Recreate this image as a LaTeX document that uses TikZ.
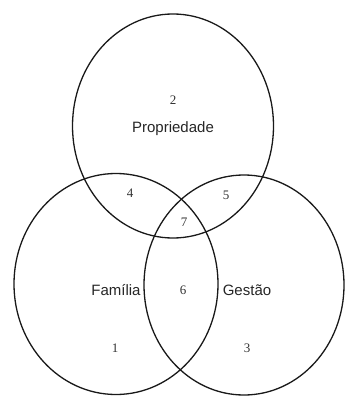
\documentclass[tikz,border=0pt]{standalone}
\usepackage{fontspec}
\setmainfont{Liberation Serif}
\newfontfamily\labelfont{Liberation Sans}
\usetikzlibrary{shapes.geometric}
\tikzstyle{set} = [
    ellipse,
    inner sep=0pt,
    line width=1.3pt,
    draw=black!90
]
\tikzstyle{setname} = [
    font=\labelfont\fontsize{15}{17}\selectfont,
    text=black!85,
    inner sep=0pt
]
\tikzstyle{region} = [
    font=\fontsize{13}{15}\selectfont,
    text=black!80,
    inner sep=0pt
]

\begin{document}
\begin{tikzpicture}[x=1pt, y=-1pt]

\useasboundingbox (0,0) rectangle (345,396);

\node (propset) [set, minimum width=201pt, minimum height=224pt] at (173,126) {};
\node (famset) [set, minimum width=204pt, minimum height=221pt] at (116,284) {};
\node (gestset) [set, minimum width=200pt, minimum height=220pt] at (244,285) {};

\node (prop) [setname] at (173,129) {Propriedade};
\node (fam) [setname] at (116,290) {Família};
\node (gest) [setname] at (247,290) {Gestão};

\node (r2) [region] at (173,100) {2};
\node (r4) [region] at (130,193) {4};
\node (r5) [region] at (226,195) {5};
\node (r7) [region] at (184,222) {7};
\node (r6) [region] at (183,290) {6};
\node (r1) [region] at (115,348) {1};
\node (r3) [region] at (247,348) {3};

\end{tikzpicture}
\end{document}
